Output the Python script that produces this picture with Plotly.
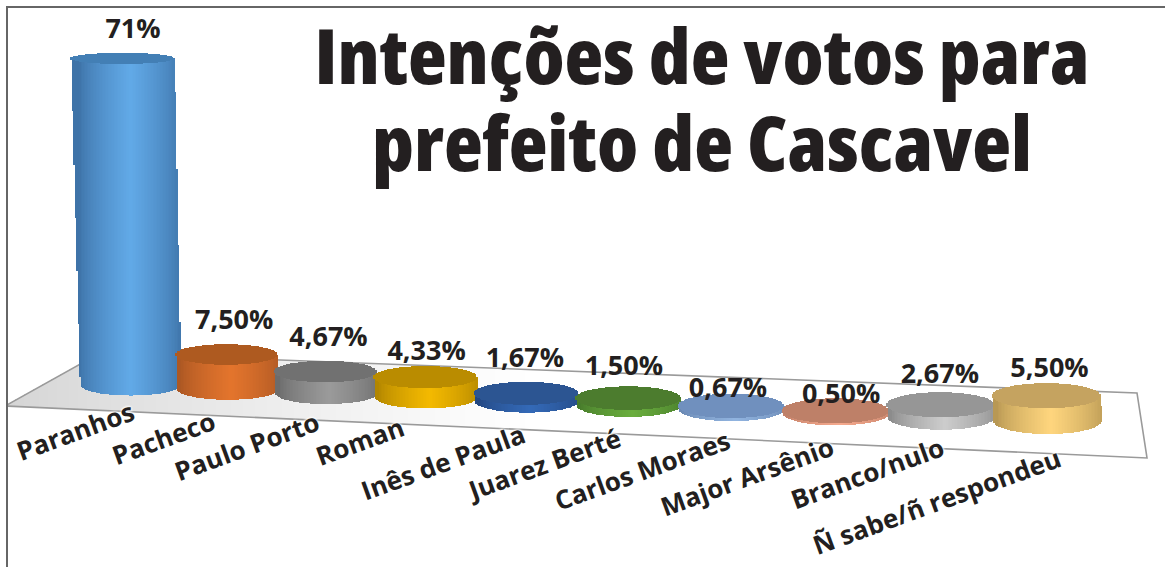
import numpy as np
import plotly.graph_objects as go

CATEGORIES = ["Paranhos", "Pacheco", "Paulo Porto", "Roman", "Inês de Paula", "Juarez Berté",
              "Carlos Moraes", "Major Arsênio", "Branco/nulo", "Ñ sabe/ñ respondeu"]
VALUES = [71, 7.5, 4.67, 4.33, 1.67, 1.5, 0.67, 0.5, 2.67, 5.5]
VALUE_LABELS = ["71%", "7,50%", "4,67%", "4,33%", "1,67%", "1,50%", "0,67%", "0,50%", "2,67%", "5,50%"]
TITLE_LINES = ["Intenções de votos para", "prefeito de Cascavel"]

# styles: (highlight, edge, cap)
COLORS = [((98, 170, 232), (62, 115, 168), (67, 127, 181)),
          ((228, 117, 45), (172, 88, 36), (174, 90, 32)),
          ((155, 155, 155), (108, 108, 108), (113, 113, 113)),
          ((244, 186, 0), (178, 134, 0), (186, 140, 0)),
          ((52, 106, 184), (36, 72, 130), (44, 85, 146)),
          ((106, 174, 62), (72, 124, 44), (76, 124, 46)),
          ((145, 180, 224), (108, 138, 180), (112, 144, 190)),
          ((246, 170, 142), (196, 130, 106), (190, 128, 104)),
          ((205, 205, 205), (140, 140, 140), (150, 150, 150)),
          ((255, 214, 126), (184, 152, 84), (197, 163, 96))]
# layout nudges (in px)
VALUE_DX = [10.7, 7.5, 3, 1.4, -1.4, -4.2, -3.2, 5.7, -0.6, 3]
VALUE_LIFT = [27.4, 32, 32, 23.5, 33.5, 29.5, 15.5, 14.2, 28.2, 25.2]
CAT_DX = [-55, -64.5, -79, -65.6, -83.4, -85, -89, -88, -73.6, -110]
CAT_DY = [46, 49, 53, 44, 61, 59, 61, 63, 56, 80]
FLOOR_PX_X = [5, 100, 1137, 1147, 5]
FLOOR_PX_Y = [406, 353, 393, 458, 406]

W, H, ML, MT = 1165, 567, 8, 8
PX_X, PX_Y = 100.0, 4.6          # px per axis unit
X0, Y0 = 130.0, 385.0            # px of x=0, y=0
xrange_ = [(ML - X0) / PX_X, (W - X0) / PX_X]
yrange_ = [(Y0 - H) / PX_Y, (Y0 - MT) / PX_Y]
ux = lambda p: (np.asarray(p, float) - X0) / PX_X
uy = lambda p: (Y0 - np.asarray(p, float)) / PX_Y


def center_px(i):
    return 227.5 + 98.5 * (i - 1) + 1.13 * (i - 1) * (i - 2) / 2


def mix(a, b, t):
    return "rgb(%d,%d,%d)" % tuple(a[k] + (b[k] - a[k]) * t for k in range(3))


fig = go.Figure()

# floor, drawn as strips clipped by its outline
STEP = 1.5
fx = np.arange(5, 1147, STEP * 2)
rear_x, rear_y = np.array(FLOOR_PX_X[:4]), np.array(FLOOR_PX_Y[:4])
upper = np.interp(fx, rear_x[:3], rear_y[:3])
upper = np.where(fx > 1137, np.interp(fx, [1137, 1147], [393, 458]), upper)
lower = np.interp(fx, [5, 1147], [406, 458])
shade = np.clip((fx - 5) / 520, 0, 1) ** 0.8
fig.add_trace(go.Bar(x=ux(fx), base=uy(lower), y=(lower - upper) / PX_Y, width=STEP * 2.4 / PX_X,
                     marker=dict(color=[mix((212, 212, 212), (255, 255, 255), s) for s in shade], line_width=0),
                     hoverinfo="skip", showlegend=False))
fig.add_trace(go.Scatter(x=ux(FLOOR_PX_X), y=uy(FLOOR_PX_Y), mode="lines",
                         line=dict(color="#9a9a9a", width=1.6), hoverinfo="skip", showlegend=False))

# cylinders
tops_x, tops_y = [], []
for i, v in enumerate(VALUES):
    high, edge, cap = COLORS[i]
    cb = center_px(i)
    ct = cb - 0.11 * v
    hw_b = 50 + 0.42 * i
    hw_t = hw_b * (1 + 0.0004 * v)
    yb = 385 + 4 * i                # base centre, px
    yt = yb - v * PX_Y              # top centre, px
    hb = 10.5 + 0.28 * i
    ht = hb * (1 - 0.0066 * v)
    xl_t, xr_t, xl_b, xr_b = ct - hw_t, ct + hw_t, cb - hw_b, cb + hw_b
    xs = np.arange(min(xl_t, xl_b), max(xr_t, xr_b), STEP)
    body_lo, body_hi, body_c = [], [], []
    for x in xs:
        u = np.clip((x - cb) / hw_b, -1, 1)
        lo = yb + hb * np.sqrt(1 - u * u)
        if x < xl_b and xl_b > xl_t:
            lo = yt + (yb - yt) * (x - xl_t) / (xl_b - xl_t)
        hi = yt
        if x > xr_t and xr_b > xr_t:
            hi = yt + (yb - yt) * (x - xr_t) / (xr_b - xr_t)
        mid = (cb + ct) / 2
        w = (x - mid) / ((hw_b + hw_t) / 2) - 0.08
        t = np.clip(1 - abs(w), 0, 1) ** 0.7
        body_lo.append(lo)
        body_hi.append(hi)
        body_c.append(mix(edge, high, t))
    body_lo, body_hi = np.array(body_lo), np.array(body_hi)
    fig.add_trace(go.Bar(x=ux(xs + STEP / 2), base=uy(body_lo), y=(body_lo - body_hi) / PX_Y,
                         width=STEP * 1.3 / PX_X, marker=dict(color=body_c, line_width=0),
                         hoverinfo="skip", showlegend=False, xaxis="x2", yaxis="y2"))
    cx = np.arange(xl_t, xr_t, STEP)
    cu = np.clip((cx + STEP / 2 - ct) / hw_t, -1, 1)
    half = ht * np.sqrt(1 - cu * cu)
    fig.add_trace(go.Bar(x=ux(cx + STEP / 2), base=uy(yt + half), y=2 * half / PX_Y,
                         width=STEP * 1.3 / PX_X, marker=dict(color="rgb(%d,%d,%d)" % cap, line_width=0),
                         hoverinfo="skip", showlegend=False, xaxis="x2", yaxis="y2"))
    tops_x.append(ct + VALUE_DX[i])
    tops_y.append(yt - VALUE_LIFT[i])

fig.add_trace(go.Scatter(x=ux(tops_x), y=uy(tops_y), mode="text", text=VALUE_LABELS,
                         textposition="middle center", cliponaxis=False,
                         textfont=dict(family="Open Sans", size=27, color="#231f20", weight=700),
                         hoverinfo="skip", showlegend=False, xaxis="x2", yaxis="y2"))

annotations = []
for i, name in enumerate(CATEGORIES):
    annotations.append(dict(x=float(ux(center_px(i) + CAT_DX[i])), y=float(uy(385 + 4 * i + CAT_DY[i])),
                            xref="x", yref="y", text=name, showarrow=False, textangle=-20,
                            xanchor="center", yanchor="middle",
                            font=dict(family="Open Sans", size=26, color="#231f20", weight=700,
                                      shadow="0 0 3px #fff, 0 0 3px #fff, 0 0 3px #fff")))
TITLE_FONT = dict(family="Open Sans", size=77, color="#231f20", weight=800)
for line, base_px in zip(TITLE_LINES, [54, 141]):
    annotations.append(dict(x=float(ux(702)), y=float(uy(base_px)), xref="x", yref="y", text=line,
                            showarrow=False, xanchor="center", yanchor="middle", font=TITLE_FONT))

axis_common = dict(showgrid=False, zeroline=False, showticklabels=False, ticks="")
fig.update_layout(
    width=W, height=H, autosize=False, margin=dict(l=ML, r=0, t=MT, b=0),
    paper_bgcolor="white", plot_bgcolor="white", barmode="overlay", bargap=0, showlegend=False,
    xaxis=dict(range=xrange_, side="top", showline=True, linecolor="#666666", linewidth=1.5, **axis_common),
    yaxis=dict(range=yrange_, showline=True, linecolor="#666666", linewidth=1.5, **axis_common),
    xaxis2=dict(range=xrange_, overlaying="x", anchor="y2", visible=False, **axis_common),
    yaxis2=dict(range=yrange_, overlaying="y", anchor="x2", visible=False, **axis_common),
    annotations=annotations,
)
POST = """
document.body.style.margin='0';document.body.style.overflow='hidden';
setTimeout(function(){
  document.querySelectorAll('.annotation-text').forEach(function(t){
    if(parseFloat(t.style.fontSize)>50){
      t.style.fontStretch='75%';
      t.setAttribute('lengthAdjust','spacingAndGlyphs');
      t.setAttribute('textLength', t.textContent.indexOf('Inten')===0 ? '775' : '660');
    }
  });
},30);
"""
fig.write_html("out.html", config=dict(displayModeBar=False), post_script=POST)
